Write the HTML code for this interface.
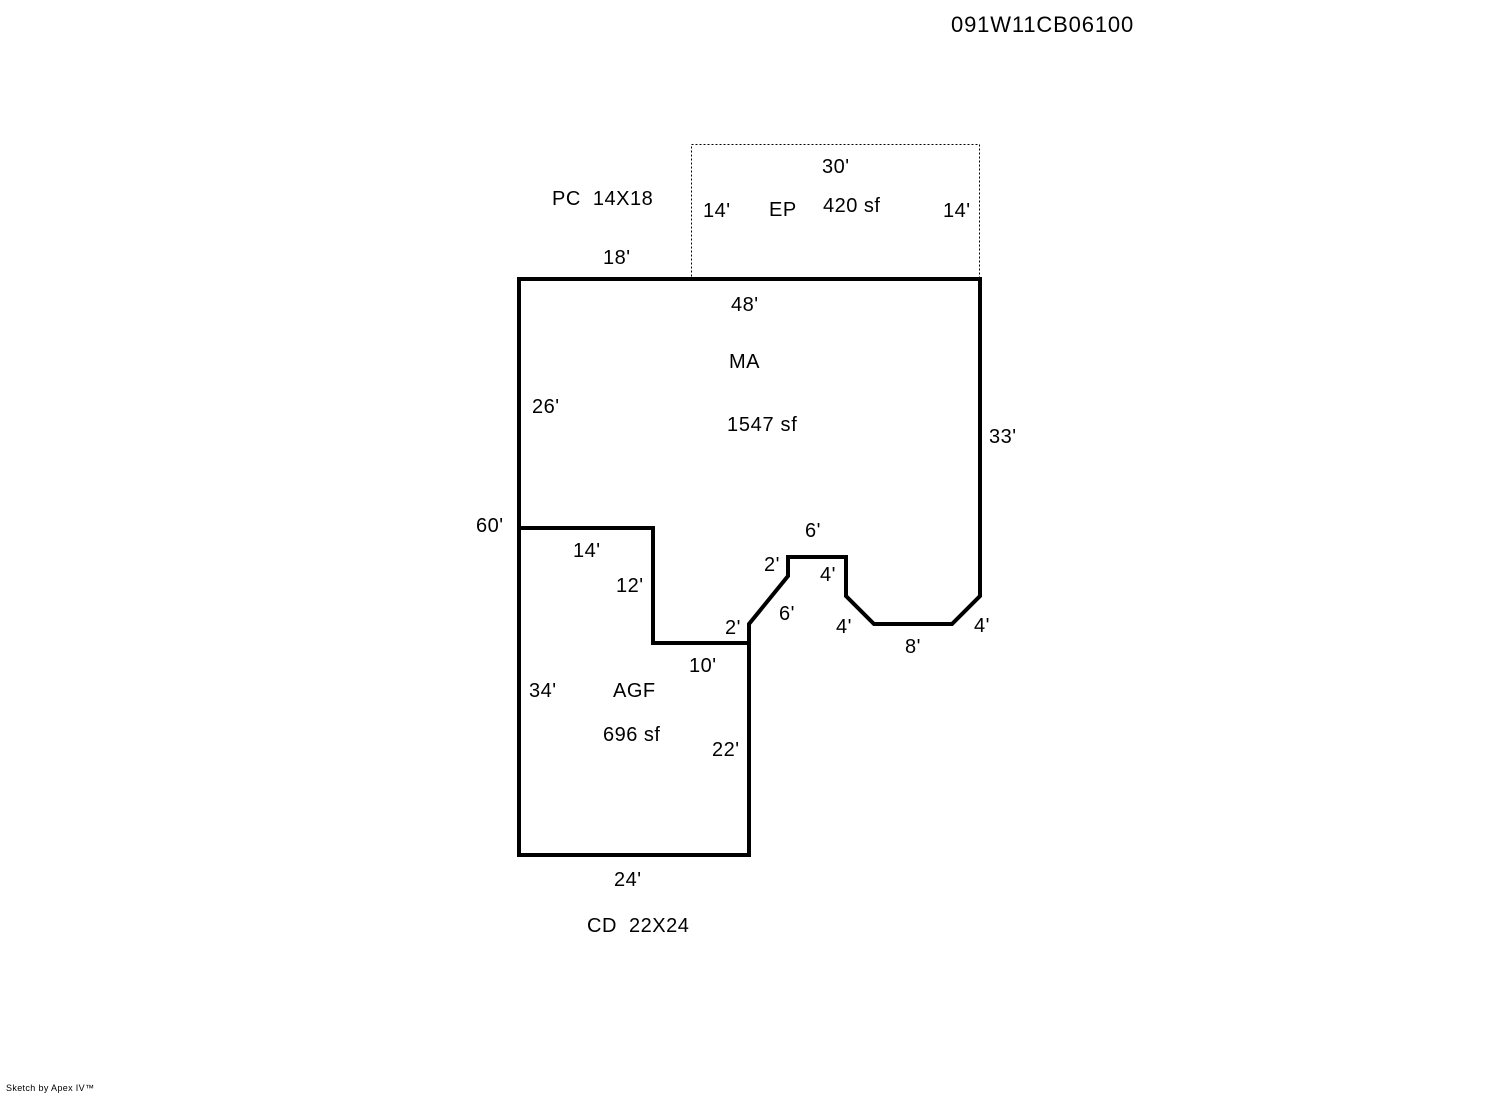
<!DOCTYPE html>
<html><head><meta charset="utf-8"><style>
html,body{margin:0;padding:0;background:#fff;}
svg{display:block;}
text{font-family:"Liberation Sans",Arial,sans-serif;font-size:20px;fill:#000;letter-spacing:0.5px;}
</style></head><body>
<svg width="1492" height="1094" viewBox="0 0 1492 1094" xmlns="http://www.w3.org/2000/svg">
<rect width="1492" height="1094" fill="#fff"/>
<rect x="691.5" y="144.5" width="288" height="134" fill="none" stroke="#000" stroke-width="1" stroke-dasharray="2,2"/>
<path d="M519,279 L980,279 L980,596 L952,624 L874,624 L846,596 L846,557 L788,557 L788,576 L749,624 L749,855 L519,855 Z" fill="none" stroke="#000" stroke-width="4" stroke-linejoin="miter"/>
<path d="M519,528 L653,528 L653,643 L749,643" fill="none" stroke="#000" stroke-width="4" stroke-linejoin="miter"/>
<text x="951" y="32" style="font-size:22px;letter-spacing:0.85px">091W11CB06100</text>
<text x="552" y="205" xml:space="preserve">PC  14X18</text>
<text x="822" y="173">30'</text>
<text x="703" y="217">14'</text>
<text x="769" y="216">EP</text>
<text x="823" y="212">420 sf</text>
<text x="943" y="217">14'</text>
<text x="603" y="264">18'</text>
<text x="731" y="311">48'</text>
<text x="729" y="368">MA</text>
<text x="532" y="413">26'</text>
<text x="727" y="431" style="letter-spacing:0.7px">1547 sf</text>
<text x="989" y="443">33'</text>
<text x="476" y="532">60'</text>
<text x="573" y="557">14'</text>
<text x="616" y="592">12'</text>
<text x="725" y="634">2'</text>
<text x="689" y="672">10'</text>
<text x="805" y="537">6'</text>
<text x="764" y="571">2'</text>
<text x="820" y="581">4'</text>
<text x="779" y="620">6'</text>
<text x="836" y="633">4'</text>
<text x="905" y="653">8'</text>
<text x="974" y="632">4'</text>
<text x="529" y="697">34'</text>
<text x="613" y="697">AGF</text>
<text x="603" y="741">696 sf</text>
<text x="712" y="756">22'</text>
<text x="614" y="886">24'</text>
<text x="587" y="932" xml:space="preserve">CD  22X24</text>
<text x="6" y="1091" style="font-size:9px;letter-spacing:0.35px">Sketch by Apex IV™</text>
</svg>
</body></html>
